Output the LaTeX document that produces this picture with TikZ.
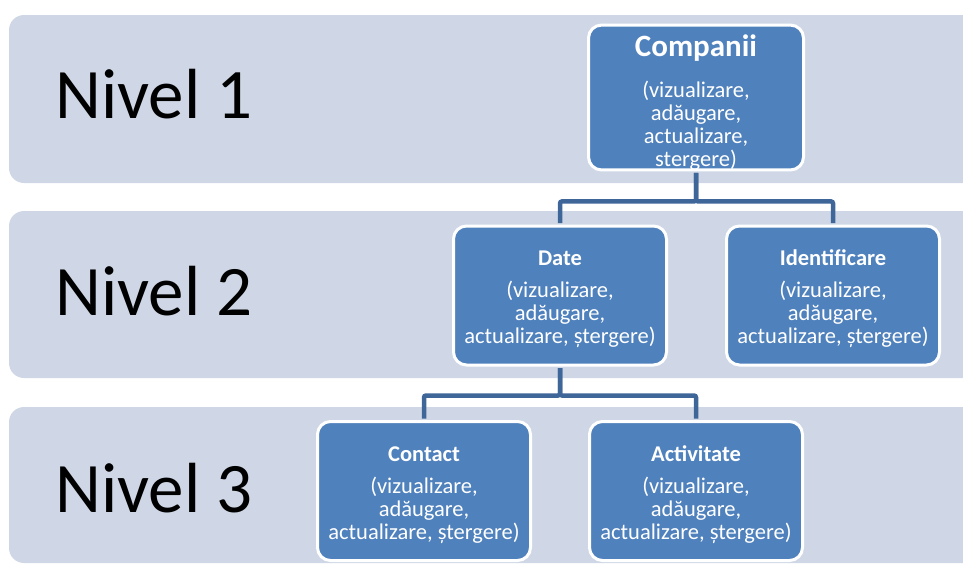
\documentclass[tikz,border=0pt]{standalone}
\usepackage{fontspec}
\setmainfont{Carlito}
\definecolor{bandfill}{HTML}{CFD7E6}
\definecolor{boxfill}{HTML}{4F81BD}
\definecolor{linkcol}{HTML}{3F6698}
\newcommand{\topstrut}[1]{\rule{0pt}{#1}}
\begin{document}
\begin{tikzpicture}[x=1pt,y=-1pt,
  band/.style={fill=bandfill,rounded corners=15pt},
  lvl/.style={anchor=base west,inner sep=0pt,font=\fontsize{71}{80}\selectfont,text=black},
  orgbox/.style={draw=white,line width=3pt,fill=boxfill,rounded corners=13pt,
    minimum width=213pt,minimum height=139pt,text=white,align=center,
    inner sep=0pt,font=\fontsize{22.5}{23}\selectfont},
  link/.style={draw=linkcol,line width=4.5pt,rounded corners=2pt,shorten <=1.5pt,shorten >=1.5pt}]
\useasboundingbox (0,0) rectangle (963,566);
\path[band] (9,15) rectangle (990,183);
\path[band] (9,211) rectangle (990,378);
\path[band] (9,407) rectangle (990,563);
\node[lvl] (n1) at (55,118) {Nivel 1};
\node[lvl] (n2) at (55,315) {Nivel 2};
\node[lvl] (n3) at (55,512) {Nivel 3};
\node[orgbox,minimum width=215pt,minimum height=141pt] (comp) at (696,97.5)
  {\topstrut{31pt}{\fontsize{31}{31}\selectfont\bfseries Companii}\\[18pt]
   (vizualizare,\\ adăugare,\\ actualizare,\\ stergere)};
\node[orgbox] (date) at (560,295.5)
  {\topstrut{22pt}{\bfseries Date}\\[9pt] (vizualizare,\\ adăugare,\\ actualizare, ștergere)};
\node[orgbox] (ident) at (833,295.5)
  {\topstrut{22pt}{\bfseries Identificare}\\[9pt] (vizualizare,\\ adăugare,\\ actualizare, ștergere)};
\node[orgbox] (cont) at (424,491)
  {\topstrut{23pt}{\bfseries Contact}\\[9pt] (vizualizare,\\ adăugare,\\ actualizare, ștergere)};
\node[orgbox] (act) at (696,491)
  {\topstrut{23pt}{\bfseries Activitate}\\[9pt] (vizualizare,\\ adăugare,\\ actualizare, ștergere)};
\draw[link] (comp.south) -- ++(0,30) -| (date.north);
\draw[link] (comp.south) -- ++(0,30) -| (ident.north);
\draw[link] (date.south) -- ++(0,29) -| (cont.north);
\draw[link] (date.south) -- ++(0,29) -| (act.north);
\end{tikzpicture}
\end{document}
